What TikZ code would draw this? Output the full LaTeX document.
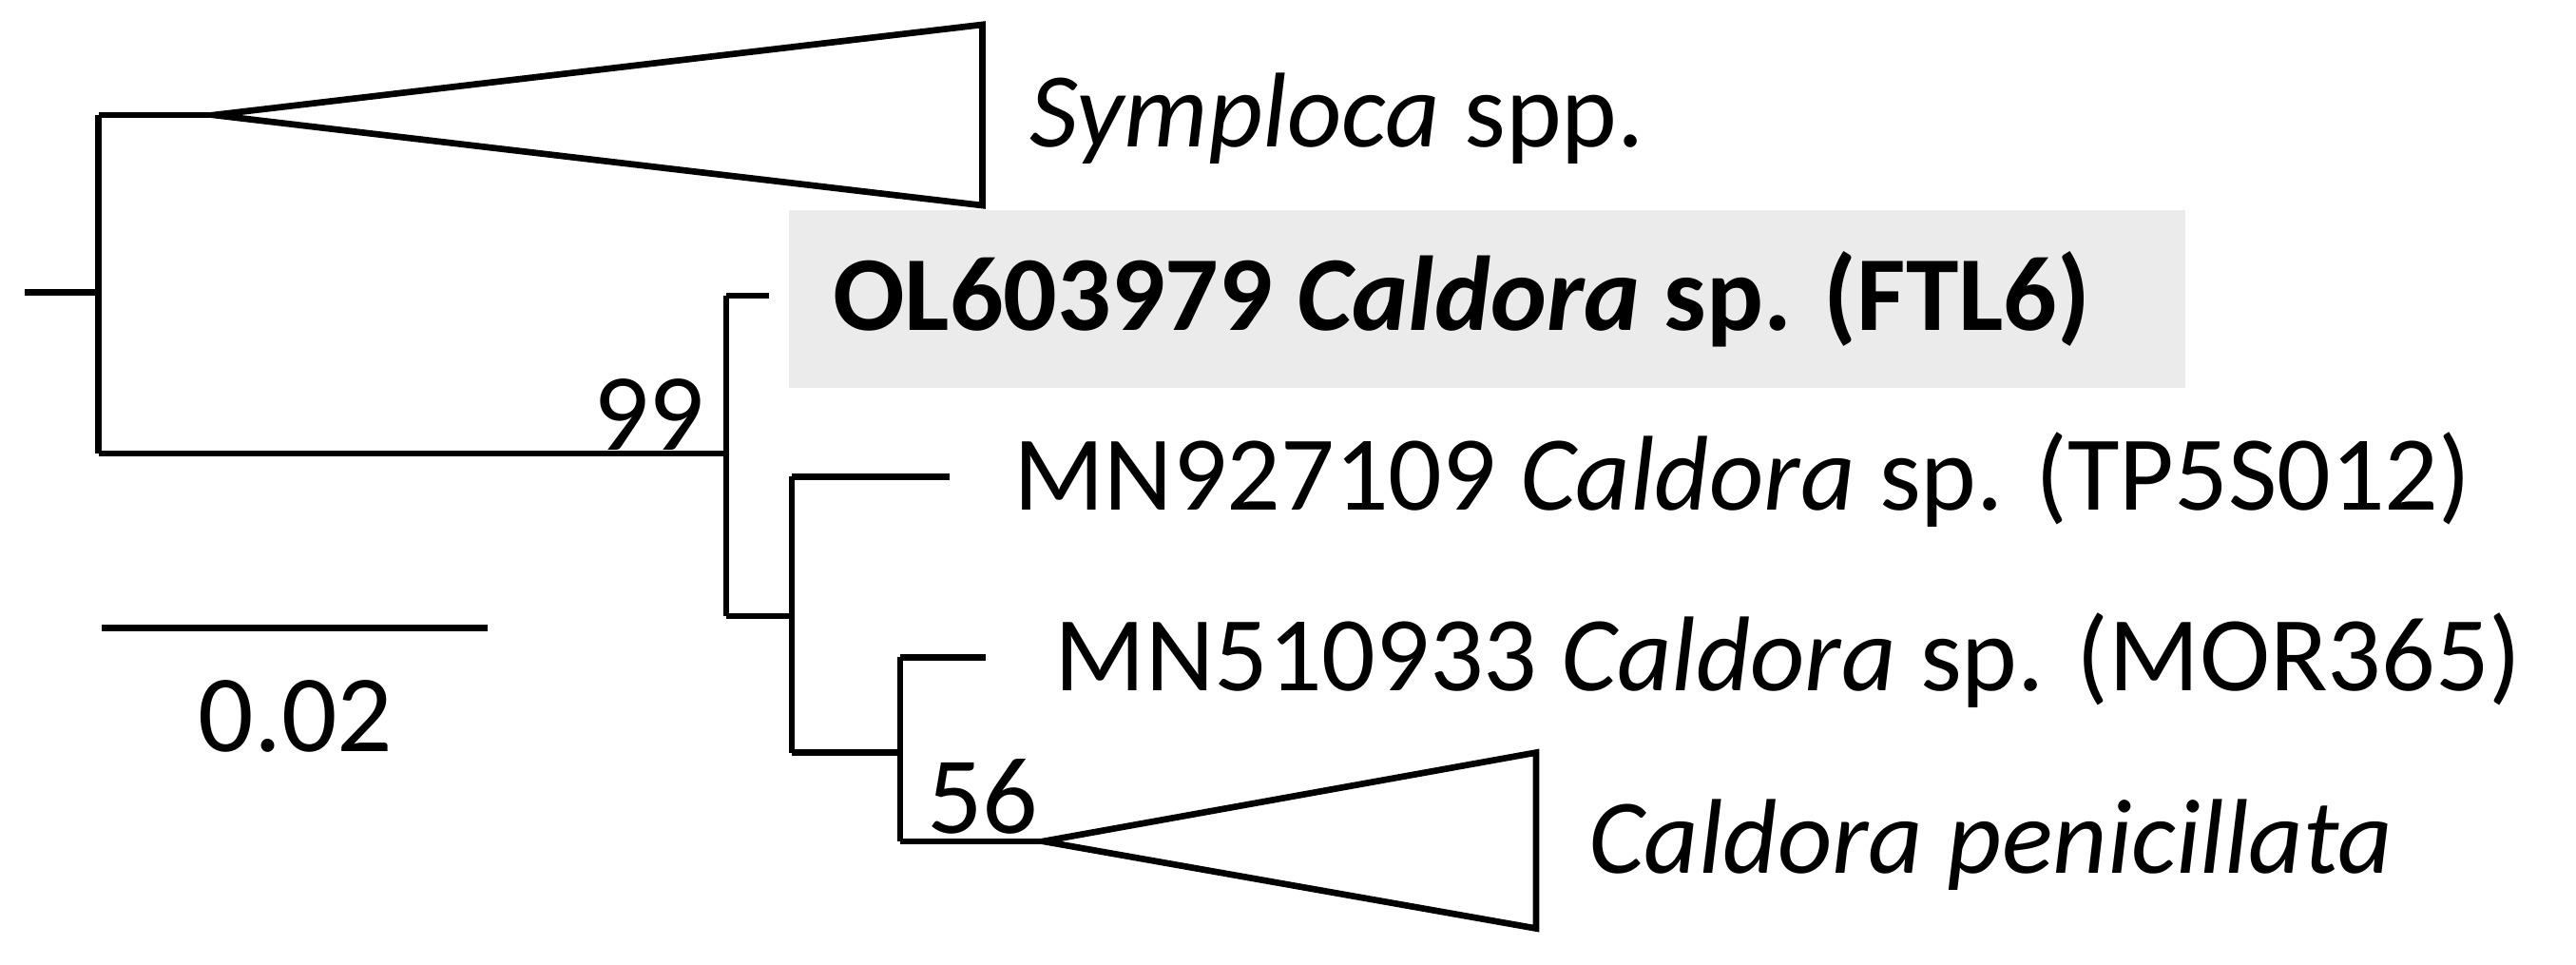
\documentclass[tikz,border=0pt]{standalone}
\usepackage{fontspec}
\setmainfont{Carlito}
\begin{document}
\begin{tikzpicture}[x=0.01cm,y=-0.01cm,line width=1.1pt,
  lbl/.style={anchor=west,inner sep=0pt,font=\fontsize{18.4}{22}\selectfont},
  num/.style={inner sep=0pt,font=\fontsize{19}{22}\selectfont}]
\useasboundingbox (0,0) rectangle (1568,587);
\fill[black!8] (480,128) rectangle (1330,236);
\coordinate (r0) at (15,178); \coordinate (r) at (60,178);
\coordinate (a) at (60,70); \coordinate (a2) at (130,70);
\coordinate (b) at (60,276); \coordinate (b2) at (442,276);
\coordinate (c1) at (442,180); \coordinate (c1e) at (468,180);
\coordinate (c2) at (442,375); \coordinate (d) at (482,375);
\coordinate (d1) at (482,290); \coordinate (d1e) at (578,290);
\coordinate (d2) at (482,458); \coordinate (e) at (548,458);
\coordinate (e1) at (548,400); \coordinate (e1e) at (600,400);
\coordinate (e2) at (548,512); \coordinate (e2e) at (635,512);
\draw (r0)--(r); \draw (a)--(b); \draw (a)--(a2); \draw (b)--(b2);
\draw (c1)--(c2); \draw (c1)--(c1e); \draw (c2)--(d);
\draw (d1)--(d2); \draw (d1)--(d1e); \draw (d2)--(e);
\draw (e1)--(e2); \draw (e1)--(e1e); \draw (e2)--(e2e);
\draw[fill=white,line join=miter] (a2)--(598,15)--(598,125)--cycle;
\draw[fill=white,line join=miter] (e2e)--(935,458)--(935,565)--cycle;
\node[lbl] (s) at (625,72) {\textit{Symploca} spp.};
\node[lbl] (f) at (505,182) {\textbf{OL603979 \textit{Caldora} sp. (FTL6)}};
\node[lbl] (m1) at (615,292) {MN927109 \textit{Caldora} sp. (TP5S012)};
\node[lbl] (m2) at (640,402) {MN510933 \textit{Caldora} sp. (MOR365)};
\node[lbl] (cp) at (965,514) {\textit{Caldora penicillata}};
\node[num] (n99) at (395,252) {99};
\node[num] (n56) at (598,485) {56};
\coordinate (sb1) at (62,382); \coordinate (sb2) at (297,382);
\draw (sb1)--(sb2);
\node[num] (sbl) at (180,436) {0.02};
\end{tikzpicture}
\end{document}
